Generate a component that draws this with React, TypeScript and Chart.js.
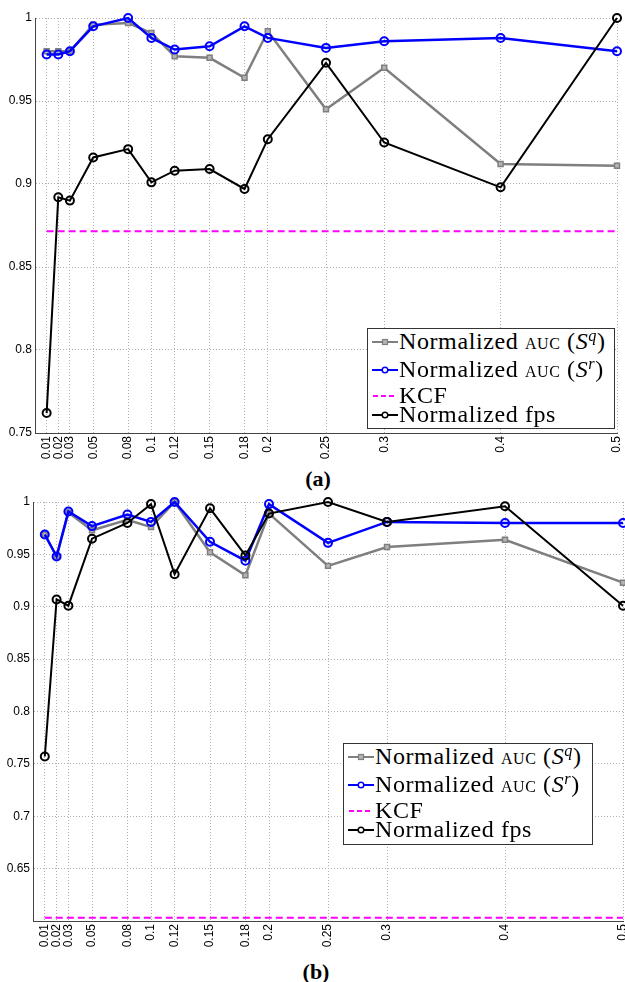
import React, { useEffect, useRef } from "react";
import { Chart, registerables } from "chart.js";
Chart.register(...registerables);

// ---------- data ----------
const xTicks = [0.01, 0.02, 0.03, 0.05, 0.08, 0.1, 0.12, 0.15, 0.18, 0.2, 0.25, 0.3, 0.4, 0.5];

// panel (a)
const aucSqA = [0.980, 0.980, 0.980, 0.996, 0.997, 0.991, 0.977, 0.976, 0.964, 0.992, 0.945, 0.970, 0.912, 0.911];
const aucSrA = [0.978, 0.978, 0.980, 0.995, 1.000, 0.988, 0.981, 0.983, 0.995, 0.988, 0.982, 0.986, 0.988, 0.980];
const fpsA = [0.762, 0.892, 0.890, 0.916, 0.921, 0.901, 0.908, 0.909, 0.897, 0.927, 0.973, 0.925, 0.898, 1.000];
const kcfA = 0.8715;

// panel (b)
const aucSqB = [0.969, 0.948, 0.990, 0.973, 0.983, 0.976, 1.000, 0.952, 0.930, 0.989, 0.939, 0.957, 0.964, 0.923];
const aucSrB = [0.969, 0.948, 0.991, 0.977, 0.988, 0.981, 1.000, 0.962, 0.944, 0.998, 0.961, 0.981, 0.980, 0.980];
const fpsB = [0.757, 0.907, 0.901, 0.965, 0.980, 0.998, 0.931, 0.994, 0.949, 0.989, 1.000, 0.981, 0.996, 0.901];
const kcfB = 0.603;

const GRAY = "#7f7f7f";
const BLUE = "#0000ff";
const BLACK = "#000000";
const MAGENTA = "#ff00ff";

const toPts = (ys: number[]) => xTicks.map((x, i) => ({ x, y: ys[i] }));

type PanelOpts = {
  sq: number[];
  sr: number[];
  fps: number[];
  kcf: number;
  yMin: number;
  hide: number[];
  yW: number;
  xH: number;
  padTop: number;
  padRight: number;
};

function makeConfig(o: PanelOpts): any {
  const tickFont = { family: "'Liberation Sans', Arial, sans-serif", size: 12 };
  return {
    type: "line",
    data: {
      datasets: [
        {
          label: "fps",
          data: toPts(o.fps),
          borderColor: BLACK,
          borderWidth: 2,
          pointStyle: "circle",
          pointRadius: 4,
          pointBorderWidth: 2,
          pointBorderColor: BLACK,
          pointBackgroundColor: "rgba(0,0,0,0)",
          order: 0,
          clip: false,
        },
        {
          label: "kcf",
          data: xTicks.map((x) => ({ x, y: o.kcf })),
          borderColor: MAGENTA,
          borderWidth: 2,
          borderDash: [7, 4],
          pointRadius: 0,
          order: 1,
          clip: false,
        },
        {
          label: "sr",
          data: toPts(o.sr),
          borderColor: BLUE,
          borderWidth: 2.5,
          pointStyle: "circle",
          pointRadius: 4,
          pointBorderWidth: 2,
          pointBorderColor: BLUE,
          pointBackgroundColor: "rgba(0,0,0,0)",
          order: 2,
          clip: false,
        },
        {
          label: "sq",
          data: toPts(o.sq),
          borderColor: GRAY,
          borderWidth: 2.5,
          pointStyle: "rect",
          pointRadius: 3.5,
          pointBorderWidth: 1.5,
          pointBorderColor: GRAY,
          pointBackgroundColor: "#b4b4b4",
          order: 3,
          clip: false,
        },
      ],
    },
    options: {
      responsive: false,
      animation: false,
      devicePixelRatio: 1,
      layout: { padding: { top: o.padTop, right: o.padRight, left: 0, bottom: 0 } },
      plugins: { legend: { display: false }, tooltip: { enabled: false } },
      scales: {
        x: {
          type: "linear",
          min: 0,
          max: 0.5,
          afterBuildTicks: (s: any) => {
            s.ticks = xTicks.map((v) => ({ value: v }));
          },
          afterFit: (s: any) => {
            s.height = o.xH;
            s.paddingLeft = 0;
            s.paddingRight = 0;
          },
          ticks: {
            autoSkip: false,
            maxRotation: 90,
            minRotation: 90,
            padding: 3,
            color: "#000",
            font: tickFont,
            callback: (v: number) => String(v),
          },
          grid: { color: "#b0b0b0", lineWidth: 1, drawTicks: false },
          border: { display: true, color: "#444", width: 1, dash: [1, 2] },
        },
        y: {
          type: "linear",
          min: o.yMin,
          max: 1,
          afterFit: (s: any) => {
            s.width = o.yW;
            s.paddingTop = 0;
            s.paddingBottom = 0;
          },
          ticks: {
            stepSize: 0.05,
            padding: 3,
            color: "#000",
            font: tickFont,
            callback: (v: number) => {
              const r = parseFloat(v.toFixed(2));
              if (o.hide.some((h) => Math.abs(h - r) < 1e-6)) return "";
              return String(r);
            },
          },
          grid: { color: "#b0b0b0", lineWidth: 1, drawTicks: false },
          border: { display: true, color: "#444", width: 1, dash: [1, 2] },
        },
      },
    },
  };
}

function Panel(props: { opts: PanelOpts; top: number; width: number; height: number }) {
  const ref = useRef<HTMLCanvasElement | null>(null);
  useEffect(() => {
    if (!ref.current) return;
    const chart = new Chart(ref.current, makeConfig(props.opts));
    return () => chart.destroy();
  }, []);
  return (
    <canvas
      ref={ref}
      width={props.width}
      height={props.height}
      style={{ position: "absolute", left: 0, top: props.top, width: props.width, height: props.height }}
    />
  );
}

function Sample(props: { kind: "sq" | "sr" | "kcf" | "fps" }) {
  const k = props.kind;
  const color = k === "sq" ? GRAY : k === "sr" ? BLUE : k === "kcf" ? MAGENTA : BLACK;
  return (
    <svg width={26} height={10} style={{ position: "absolute", left: -27, top: 8 }}>
      {k === "kcf" ? (
        <line x1={1} y1={5} x2={25} y2={5} stroke={color} strokeWidth={2} strokeDasharray="5,3" />
      ) : (
        <line x1={0} y1={5} x2={26} y2={5} stroke={color} strokeWidth={2} />
      )}
      {k === "sq" && <rect x={10.5} y={2.5} width={5} height={5} fill="#b4b4b4" stroke={GRAY} strokeWidth={1.2} />}
      {(k === "sr" || k === "fps") && <circle cx={13} cy={5} r={2.8} fill="#fff" stroke={color} strokeWidth={1.5} />}
    </svg>
  );
}

const legendFont: React.CSSProperties = {
  fontFamily: "'Liberation Serif', 'Times New Roman', serif",
  fontSize: 24,
  lineHeight: "24px",
  letterSpacing: 0.6,
  color: "#000",
  whiteSpace: "nowrap",
};

function LegendBox(props: { left: number; top: number; width: number; height: number }) {
  const sup = (t: string) => (
    <span style={{ fontSize: "0.68em", position: "relative", top: "-0.5em", fontStyle: "italic" }}>{t}</span>
  );
  const auc = <span style={{ fontVariant: "small-caps", fontSize: "0.95em" }}>auc</span>;
  const rows: { kind: "sq" | "sr" | "kcf" | "fps"; top: number; content: React.ReactNode }[] = [
    {
      kind: "sq",
      top: 0,
      content: (
        <>
          Normalized {auc} (<i>S</i>
          {sup("q")})
        </>
      ),
    },
    {
      kind: "sr",
      top: 28,
      content: (
        <>
          Normalized {auc} (<i>S</i>
          {sup("r")})
        </>
      ),
    },
    { kind: "kcf", top: 54, content: <>KCF</> },
    { kind: "fps", top: 73, content: <>Normalized fps</> },
  ];
  return (
    <div
      style={{
        position: "absolute",
        left: props.left,
        top: props.top,
        width: props.width,
        height: props.height,
        border: "1px solid #333",
        background: "#fff",
        boxSizing: "border-box",
      }}
    >
      {rows.map((r, i) => (
        <div key={i} style={{ ...legendFont, position: "absolute", left: 31, top: r.top }}>
          <Sample kind={r.kind} />
          {r.content}
        </div>
      ))}
    </div>
  );
}

const captionStyle: React.CSSProperties = {
  position: "absolute",
  fontFamily: "'Liberation Serif', 'Times New Roman', serif",
  fontWeight: "bold",
  fontSize: 22,
  lineHeight: "22px",
  transform: "translateX(-50%)",
  color: "#000",
};

export default function App() {
  const optsA: PanelOpts = {
    sq: aucSqA,
    sr: aucSrA,
    fps: fpsA,
    kcf: kcfA,
    yMin: 0.75,
    hide: [],
    yW: 35,
    xH: 29,
    padTop: 18,
    padRight: 8,
  };
  const optsB: PanelOpts = {
    sq: aucSqB,
    sr: aucSrB,
    fps: fpsB,
    kcf: kcfB,
    yMin: 0.6,
    hide: [0.6],
    yW: 33,
    xH: 34,
    padTop: 22,
    padRight: 8,
  };
  return (
    <div
      style={{
        position: "fixed",
        left: 0,
        top: 0,
        width: 625,
        height: 982,
        overflow: "hidden",
        background: "#fff",
      }}
    >
      <Panel opts={optsA} top={0} width={625} height={462} />
      <LegendBox left={367} top={328} width={248} height={101} />
      <div style={{ ...captionStyle, left: 318, top: 468 }}>(a)</div>
      <Panel opts={optsB} top={480} width={631} height={475} />
      <LegendBox left={343} top={743} width={250} height={102} />
      <div style={{ ...captionStyle, left: 316, top: 961 }}>(b)</div>
    </div>
  );
}
